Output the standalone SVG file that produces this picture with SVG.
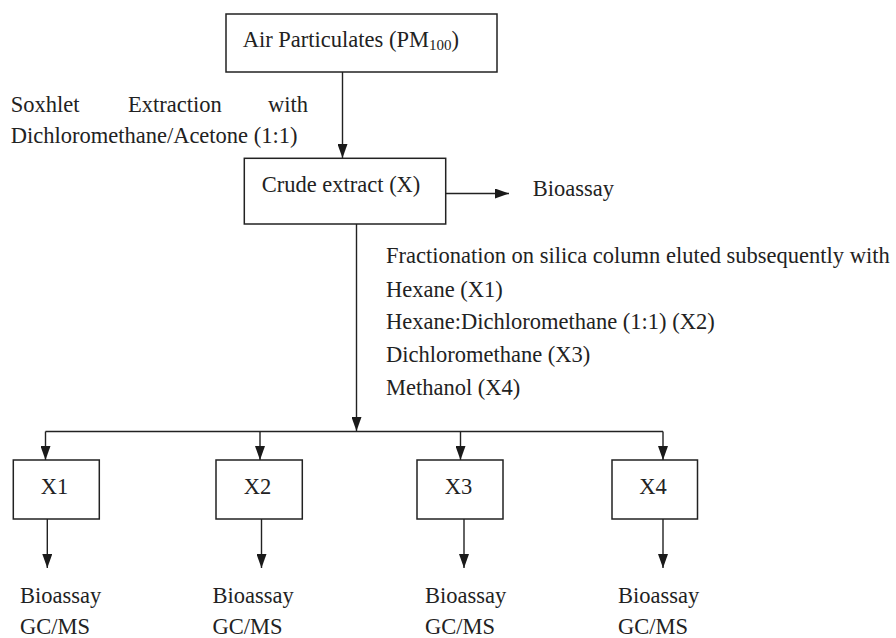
<svg xmlns="http://www.w3.org/2000/svg" width="896" height="638" viewBox="0 0 896 638">
<defs>
<marker id="ah" markerWidth="14" markerHeight="10" refX="14" refY="5" orient="auto" markerUnits="userSpaceOnUse">
<path d="M0,0 L14,5 L0,10 Z" fill="#1a1a1a"/>
</marker>
<style>
text{font-family:'Liberation Serif','DejaVu Serif',serif;font-size:22.5px;fill:#222}
.box{fill:#fff;stroke:#222;stroke-width:1.5}
.ln{fill:none;stroke:#222;stroke-width:1.4}
.arr{fill:none;stroke:#222;stroke-width:1.4;marker-end:url(#ah)}
</style>
</defs>
<rect width="896" height="638" fill="#fff"/>

<g id="connectors">
<line class="arr" x1="342.5" y1="72" x2="342.5" y2="158"/>
<line class="arr" x1="445.7" y1="193.5" x2="509" y2="193.5"/>
<line class="arr" x1="356.5" y1="224" x2="356.5" y2="431"/>
<line class="ln" x1="45.5" y1="431.5" x2="663" y2="431.5"/>
<line class="arr" x1="45.5" y1="431.5" x2="45.5" y2="460"/>
<line class="arr" x1="260" y1="431.5" x2="260" y2="460"/>
<line class="arr" x1="460.5" y1="431.5" x2="460.5" y2="460"/>
<line class="arr" x1="663" y1="431.5" x2="663" y2="460"/>
<line class="arr" x1="47.3" y1="519" x2="47.3" y2="568"/>
<line class="arr" x1="261.5" y1="519" x2="261.5" y2="568"/>
<line class="arr" x1="464" y1="519" x2="464" y2="568"/>
<line class="arr" x1="663" y1="519" x2="663" y2="568"/>
</g>

<g id="air">
<rect class="box" x="226" y="14" width="271" height="58"/>
<text x="242.7" y="47">Air Particulates (PM<tspan font-size="15" dy="3">100</tspan><tspan dy="-3">)</tspan></text>
</g>

<g id="soxhlet-label">
<text x="10.7" y="112">Soxhlet</text>
<text x="128" y="112">Extraction</text>
<text x="268" y="112">with</text>
<text x="10.7" y="143">Dichloromethane/Acetone (1:1)</text>
</g>

<g id="crude">
<rect class="box" x="244.3" y="158.3" width="201.4" height="65.7"/>
<text x="261.7" y="191.5">Crude extract (X)</text>
</g>

<g id="bioassay-top">
<text x="532.7" y="196">Bioassay</text>
</g>

<g id="fractionation-label">
<text x="386" y="263">Fractionation on silica column eluted subsequently with</text>
<text x="386" y="296.5">Hexane (X1)</text>
<text x="386" y="329">Hexane:Dichloromethane (1:1) (X2)</text>
<text x="386" y="362">Dichloromethane (X3)</text>
<text x="386" y="395">Methanol (X4)</text>
</g>

<g id="x1">
<rect class="box" x="13.3" y="460" width="86" height="59"/>
<text x="54.5" y="493.5" text-anchor="middle">X1</text>
</g>
<g id="x2">
<rect class="box" x="216" y="460" width="86.3" height="59"/>
<text x="257.5" y="493.5" text-anchor="middle">X2</text>
</g>
<g id="x3">
<rect class="box" x="417" y="460" width="86" height="59"/>
<text x="458.5" y="493.5" text-anchor="middle">X3</text>
</g>
<g id="x4">
<rect class="box" x="612" y="460" width="85.5" height="59"/>
<text x="653" y="493.5" text-anchor="middle">X4</text>
</g>

<g id="results">
<text x="20" y="603">Bioassay</text>
<text x="20" y="634">GC/MS</text>
<text x="212.6" y="603">Bioassay</text>
<text x="212.6" y="634">GC/MS</text>
<text x="425" y="603">Bioassay</text>
<text x="425" y="634">GC/MS</text>
<text x="618" y="603">Bioassay</text>
<text x="618" y="634">GC/MS</text>
</g>
</svg>
